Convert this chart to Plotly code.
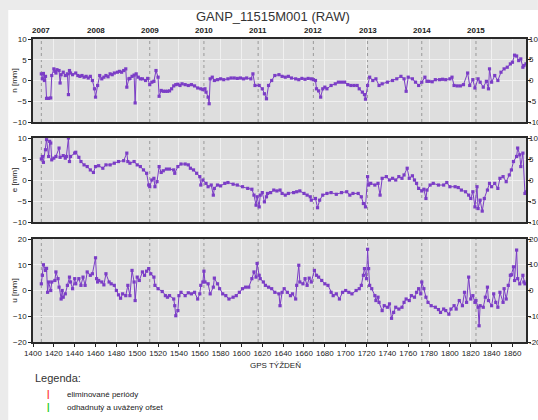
import plotly.graph_objects as go

chart_title = "GANP_11515M001 (RAW)"

# ---- data (GPS week, mm) ----
n_weeks = [1408,1409,1410,1411,1412,1413,1415,1417,1418,1420,1421,1422,1423,1425,1426,1427,1429,1431,1433,1434,
           1435,1436,1438,1441,1443,1445,1447,1449,1451,1453,1455,1457,1459,1460,1462,1464,1466,1468,1470,1472,
           1474,1476,1478,1481,1483,1485,1487,1489,1490,1492,1493,1495,1497,1498,1499,1501,1503,1505,1508,1510,
           1512,1514,1516,1518,1520,1521,1523,1525,1527,1529,1531,1533,1535,1537,1539,1541,1543,1546,1549,1552,
           1555,1558,1561,1563,1565,1566,1568,1569,1570,1572,1574,1577,1580,1583,1587,1590,1593,1596,1599,1602,
           1605,1609,1611,1613,1617,1620,1622,1624,1626,1629,1632,1636,1639,1642,1645,1648,1652,1655,1658,1661,
           1664,1667,1669,1671,1672,1674,1676,1678,1680,1682,1686,1690,1693,1696,1699,1702,1705,1708,1711,1713,
           1716,1718,1719,1721,1723,1726,1729,1732,1735,1740,1745,1749,1753,1756,1758,1760,1764,1767,1770,1773,
           1776,1778,1780,1783,1786,1790,1793,1796,1800,1802,1804,1807,1810,1813,1817,1819,1822,1824,1827,1829,
           1832,1835,1837,1838,1840,1843,1846,1849,1852,1855,1858,1860,1862,1864,1866,1868,1870,1871,1873]
n_vals = [1.6,0.4,1.7,0.0,1.0,-4.3,-4.3,-4.2,1.2,2.8,2.2,1.8,2.6,2.4,-0.6,1.4,2.0,1.2,1.6,-3.4,
          2.4,1.8,1.4,1.8,1.2,1.0,1.2,0.8,1.0,0.6,1.0,0.0,-2.0,-4.0,-1.2,1.2,0.4,0.8,1.2,0.9,
          1.6,1.4,1.8,2.0,2.2,2.0,2.4,2.8,-1.6,0.4,0.5,1.0,1.3,-5.4,1.6,0.8,0.4,0.4,0.0,0.5,
          -1.0,-0.4,-0.2,2.4,0.8,-3.8,-2.4,-2.6,-2.6,-2.6,-2.5,-2.0,-1.3,-1.0,-0.9,-1.2,-0.8,-1.0,-1.2,-1.0,
          -1.3,-1.8,-2.0,-2.2,-2.0,-2.8,-4.0,-5.6,0.4,0.8,0.0,0.2,0.4,0.2,0.4,0.6,0.6,0.5,0.6,0.4,
          0.6,0.4,1.6,-1.2,-1.2,-2.0,-3.2,-4.4,-1.2,0.0,1.2,1.4,1.0,0.8,1.0,0.6,0.4,0.2,0.5,0.3,
          0.5,0.4,0.2,0.0,-2.0,-2.5,-4.0,-2.0,-1.6,-2.0,-1.2,-0.8,-0.4,-0.4,-0.4,-1.0,-1.2,-1.2,-1.2,-2.0,
          -2.8,-3.4,-4.5,-1.2,0.8,0.0,0.4,-1.2,-0.8,-0.4,0.0,0.4,1.0,0.4,-2.6,0.8,0.4,-0.4,-1.2,-0.4,
          0.8,-0.2,-0.2,-0.3,0.2,0.2,0.3,0.2,0.4,0.8,-1.2,-1.3,-1.3,-1.0,1.8,-1.2,0.2,-1.8,0.4,-0.4,
          -1.6,-0.2,-2.0,2.8,-0.4,1.2,0.0,2.0,2.8,3.2,4.0,4.4,6.1,5.9,4.8,5.2,3.2,3.6,4.0]

e_weeks = [1408,1409,1410,1412,1413,1415,1416,1417,1418,1420,1422,1425,1426,1429,1431,1432,1434,1435,1436,1440,
           1441,1444,1446,1449,1452,1455,1458,1460,1463,1467,1470,1474,1478,1482,1487,1490,1491,1493,1497,1500,
           1503,1506,1509,1511,1512,1514,1516,1517,1519,1521,1523,1525,1528,1531,1535,1536,1539,1542,1546,1549,
           1551,1554,1557,1560,1561,1563,1566,1568,1571,1573,1574,1577,1580,1584,1587,1592,1596,1601,1606,1610,
           1612,1614,1615,1617,1618,1620,1622,1624,1625,1628,1631,1634,1637,1639,1642,1645,1650,1653,1656,1660,
           1663,1666,1667,1671,1673,1675,1678,1682,1686,1691,1696,1701,1704,1707,1712,1715,1717,1719,1721,1722,
           1724,1728,1731,1733,1735,1739,1742,1745,1748,1751,1754,1756,1759,1761,1764,1766,1768,1770,1773,1775,
           1777,1778,1781,1784,1789,1794,1797,1800,1805,1808,1811,1815,1818,1820,1822,1824,1826,1827,1829,1831,
           1833,1836,1838,1840,1843,1846,1848,1851,1854,1857,1859,1861,1864,1865,1867,1868,1870,1872,1873]
e_vals = [5.0,5.6,4.2,7.2,9.6,5.6,9.2,8.8,4.8,5.2,5.6,7.6,5.4,5.8,5.2,5.6,10.0,4.4,5.6,6.4,
          6.6,5.4,4.4,3.6,3.2,2.4,1.8,3.2,3.4,2.8,3.6,3.6,4.0,4.4,4.6,6.4,4.4,4.0,4.4,3.6,
          3.2,2.4,1.6,-1.2,-1.6,0.0,0.4,-1.6,-0.4,3.2,1.8,2.2,2.6,2.6,2.4,1.6,3.2,3.8,3.8,3.6,
          2.8,2.4,1.6,0.8,-1.2,0.0,-0.8,-1.6,-1.2,-3.6,-2.0,-1.2,-1.4,-0.8,-0.6,-1.0,-1.2,-1.6,-2.0,-2.2,
          -3.6,-6.0,-4.0,-6.4,-3.6,-3.0,-5.2,-4.0,-3.2,-3.0,-2.4,-2.6,-2.4,-3.2,-3.6,-3.2,-3.0,-2.8,-2.6,-3.2,
          -3.6,-4.0,-4.8,-4.4,-6.6,-4.8,-3.6,-3.2,-3.0,-3.4,-3.0,-2.8,-3.6,-3.2,-3.2,-4.0,-5.6,-6.4,0.8,-1.2,
          -0.8,-1.2,-0.8,-3.6,0.4,0.8,0.0,0.4,0.0,0.8,0.4,1.2,2.8,0.4,1.0,0.0,-0.8,-2.0,-2.6,-2.2,
          -4.4,-2.4,-1.2,-0.8,-1.2,-1.2,-0.6,-1.6,-1.6,-1.8,-2.4,-2.8,-3.6,-4.4,-2.8,-6.4,-1.6,-6.8,-4.8,-7.4,
          -4.4,-2.4,-0.8,-1.6,-0.8,-2.0,0.4,0.8,-0.4,1.2,2.4,4.4,5.6,7.6,6.0,3.2,6.4,-3.2,-2.8]

u_weeks = [1408,1409,1410,1412,1413,1414,1415,1417,1418,1421,1422,1424,1425,1427,1428,1429,1431,1433,1435,1436,
           1438,1440,1441,1444,1446,1448,1450,1452,1455,1457,1460,1461,1462,1463,1466,1468,1470,1473,1475,1478,
           1480,1482,1484,1486,1489,1491,1493,1495,1497,1498,1500,1502,1505,1507,1509,1511,1513,1516,1517,1520,
           1524,1527,1529,1531,1535,1536,1537,1539,1540,1542,1546,1549,1552,1555,1558,1560,1561,1563,1564,1565,
           1568,1570,1573,1574,1577,1579,1582,1585,1588,1592,1595,1598,1601,1604,1607,1610,1612,1614,1615,1617,
           1618,1621,1623,1626,1629,1632,1636,1637,1639,1641,1644,1647,1649,1652,1653,1655,1656,1659,1661,1663,
           1665,1667,1670,1672,1674,1677,1680,1683,1686,1688,1691,1694,1697,1700,1703,1706,1710,1713,1715,1717,
           1718,1720,1721,1722,1723,1725,1728,1729,1731,1732,1735,1737,1740,1742,1744,1746,1748,1751,1754,1756,
           1758,1761,1763,1766,1768,1770,1772,1773,1775,1777,1779,1782,1786,1789,1791,1794,1796,1799,1801,1804,
           1806,1809,1812,1814,1816,1818,1820,1822,1824,1825,1827,1828,1829,1832,1834,1836,1837,1840,1842,1844,
           1846,1848,1851,1852,1854,1856,1858,1859,1861,1862,1864,1865,1867,1870,1871,1872]
u_vals = [2.6,5.9,10.0,7.8,8.6,-0.7,3.3,0.0,3.3,3.9,7.2,4.6,1.3,-3.3,0.0,-2.6,-1.3,2.0,5.2,3.3,
          0.7,4.6,2.6,4.6,2.0,5.2,2.0,7.2,5.9,6.5,12.7,4.6,3.3,3.9,3.3,2.2,6.5,3.3,2.6,2.0,
          0.0,-1.7,-3.0,-1.3,-2.0,2.0,-2.0,7.8,3.3,-3.9,5.2,3.9,7.2,5.9,7.5,8.5,6.5,5.2,2.0,0.7,
          -0.4,-2.0,-2.6,-2.0,-3.3,-5.9,-9.8,-7.8,-2.0,-0.7,-2.0,-0.9,-1.3,-0.7,-3.3,-1.3,2.0,3.3,7.5,3.3,
          2.6,-1.3,1.3,4.8,2.6,0.7,-1.3,-2.0,-3.3,-2.6,-2.0,-0.7,0.7,1.3,1.3,4.6,7.2,5.2,10.5,5.9,
          4.6,3.3,2.0,1.3,0.7,-0.7,-1.3,-5.9,-0.7,0.7,-0.7,-2.0,-1.3,-3.3,2.0,9.8,3.3,2.6,4.6,2.0,
          4.8,3.3,7.8,5.9,5.2,3.9,2.6,2.0,-0.7,-2.0,-1.3,-3.3,-0.7,0.0,-0.7,-1.3,0.0,0.7,2.0,5.9,
          8.5,4.6,16.0,8.5,2.0,0.7,-2.0,-3.9,-2.6,-4.6,-7.8,-5.9,-6.5,-5.2,-10.8,-8.5,-6.5,-7.2,-6.5,-4.6,
          -3.3,-3.9,-2.0,-2.6,-0.7,0.7,-1.3,3.3,0.7,-2.6,-4.6,-5.9,-6.5,-7.4,-8.5,-7.2,-7.8,-9.2,-7.2,-5.9,
          -7.2,-3.9,-5.9,-0.7,-4.6,5.2,-3.3,-2.0,-4.6,-3.9,-6.5,-13.7,-5.9,-6.5,-2.6,1.3,-3.9,-5.9,-1.3,-4.6,
          -6.5,-0.7,-4.6,0.7,-3.3,2.0,5.9,6.1,9.2,3.9,15.7,4.6,2.6,5.9,3.3,2.6]

year_weeks = [1408, 1460, 1512, 1564, 1616, 1669, 1721, 1773, 1825]
year_labels = ["2007", "2008", "2009", "2010", "2011", "2012", "2013", "2014", "2015"]
x_ticks = list(range(1400, 1861, 20))
ne_ticks = [-10, -5, 0, 5, 10]
u_ticks = [-20, -10, 0, 10, 20]
panel_names = ["n [mm]", "e [mm]", "u [mm]"]
legend_title = "Legenda:"
legend_items = ["eliminované periódy", "odhadnutý a uvážený ofset"]
legend_colors = ["#ff3b3b", "#22cc22"]
x_title = "GPS TÝŽDEŇ"

# ---- layout constants ----
W, H = 538, 420
ML, MR, MT, MB = 33, 7, 39, 78
PW, PH = W - ML - MR, H - MT - MB
def px(x):
    return (x - ML) / PW
def py(y):
    return (H - MB - y) / PH

PURPLE = "#7b3dc6"
FONT = "Liberation Sans"
TXT = "#222222"
domains = [[py(122), 1.0], [py(222), py(138)], [0.0, py(239)]]
ranges = [[-10, 10], [-10, 10], [-20, 20]]
ticksets = [ne_ticks, ne_ticks, u_ticks]
series = [(n_weeks, n_vals), (e_weeks, e_vals), (u_weeks, u_vals)]

fig = go.Figure()
for i, (wk, vals) in enumerate(series):
    sfx = "" if i == 0 else str(i + 1)
    fig.add_trace(go.Scatter(
        x=wk, y=vals, mode="lines+markers",
        line=dict(color=PURPLE, width=1),
        marker=dict(color=PURPLE, size=3.2, symbol="square"),
        xaxis="x" + sfx, yaxis="y" + sfx, showlegend=False, hoverinfo="skip"))

layout = dict(
    width=W, height=H,
    margin=dict(l=ML, r=MR, t=MT, b=MB, pad=0),
    paper_bgcolor="white", plot_bgcolor="#dedede",
    font=dict(family=FONT, size=8, color=TXT),
    showlegend=False,
)
for i in range(3):
    sfx = "" if i == 0 else str(i + 1)
    layout["xaxis" + sfx] = dict(
        domain=[0, 1], anchor="y" + sfx, range=[1400, 1873],
        tickvals=x_ticks, showticklabels=(i == 2),
        ticks="outside" if i == 2 else "", ticklen=3, tickcolor="#222",
        tickfont=dict(size=8, family=FONT, color=TXT),
        showgrid=True, gridcolor="#f0f0f0", gridwidth=1, zeroline=False,
        showline=True, linecolor="#2a2a2a", linewidth=1.5, mirror=True,
        matches="x" if i > 0 else None)
    layout["yaxis" + sfx] = dict(
        domain=domains[i], anchor="x" + sfx, range=ranges[i],
        tickvals=ticksets[i], ticks="outside", ticklen=3, tickcolor="#222",
        tickfont=dict(size=8, family=FONT, color=TXT),
        showgrid=True, gridcolor="#f0f0f0", gridwidth=1, zeroline=False,
        showline=True, linecolor="#2a2a2a", linewidth=1.5, mirror="ticks")
fig.update_layout(**layout)

shapes = []
# outer page background strips
shapes.append(dict(type="rect", xref="paper", yref="paper", x0=px(-5), x1=px(8), y0=py(H + 5), y1=py(-5),
                   fillcolor="#ebebeb", line=dict(width=0), layer="below"))
shapes.append(dict(type="rect", xref="paper", yref="paper", x0=px(-5), x1=px(W + 5), y0=py(10), y1=py(-5),
                   fillcolor="#ebebeb", line=dict(width=0), layer="below"))
for i in range(3):
    sfx = "" if i == 0 else str(i + 1)
    for wk in year_weeks:
        shapes.append(dict(type="line", xref="x" + sfx, yref="y" + sfx + " domain",
                           x0=wk, x1=wk, y0=0, y1=1,
                           line=dict(color="#999999", width=1, dash="dot"), layer="below"))
fig.update_layout(shapes=shapes)

ann = []
ann.append(dict(text=chart_title, xref="paper", yref="paper", x=px(275), y=py(16),
                xanchor="center", yanchor="middle", showarrow=False,
                font=dict(size=13, family=FONT, color="#333")))
for wk, lab in zip(year_weeks, year_labels):
    ann.append(dict(text="<b>" + lab + "</b>", xref="x", yref="paper", x=wk, y=1,
                    xanchor="center", yanchor="bottom", yshift=2, showarrow=False,
                    font=dict(size=8, family=FONT, color=TXT)))
for i in range(3):
    sfx = "" if i == 0 else str(i + 1)
    ann.append(dict(text=panel_names[i], xref="paper", yref="paper",
                    x=px(14), y=sum(domains[i]) / 2, textangle=-90,
                    xanchor="center", yanchor="middle", showarrow=False,
                    font=dict(size=8, family=FONT, color=TXT)))
    for t in ticksets[i]:
        ann.append(dict(text=str(t), xref="paper", yref="y" + sfx, x=1, y=t,
                        xanchor="left", yanchor="middle", xshift=1, showarrow=False,
                        font=dict(size=8, family=FONT, color=TXT)))
ann.append(dict(text=x_title, xref="paper", yref="paper", x=px(278), y=py(365),
                xanchor="center", yanchor="middle", showarrow=False,
                font=dict(size=8, family=FONT, color=TXT)))
ann.append(dict(text=legend_title, xref="paper", yref="paper", x=px(33), y=py(378),
                xanchor="left", yanchor="middle", showarrow=False,
                font=dict(size=11, family=FONT, color="#333")))
for k, (lab, col) in enumerate(zip(legend_items, legend_colors)):
    yy = 394 + 13 * k
    ann.append(dict(text="<b>|</b>", xref="paper", yref="paper", x=px(49), y=py(yy),
                    xanchor="center", yanchor="middle", showarrow=False,
                    font=dict(size=9, family=FONT, color=col)))
    ann.append(dict(text=lab, xref="paper", yref="paper", x=px(65), y=py(yy),
                    xanchor="left", yanchor="middle", showarrow=False,
                    font=dict(size=8, family=FONT, color=TXT)))
fig.update_layout(annotations=ann)

fig.write_html("out.html", config={"displayModeBar": False},
               post_script="document.body.style.margin='0';")
